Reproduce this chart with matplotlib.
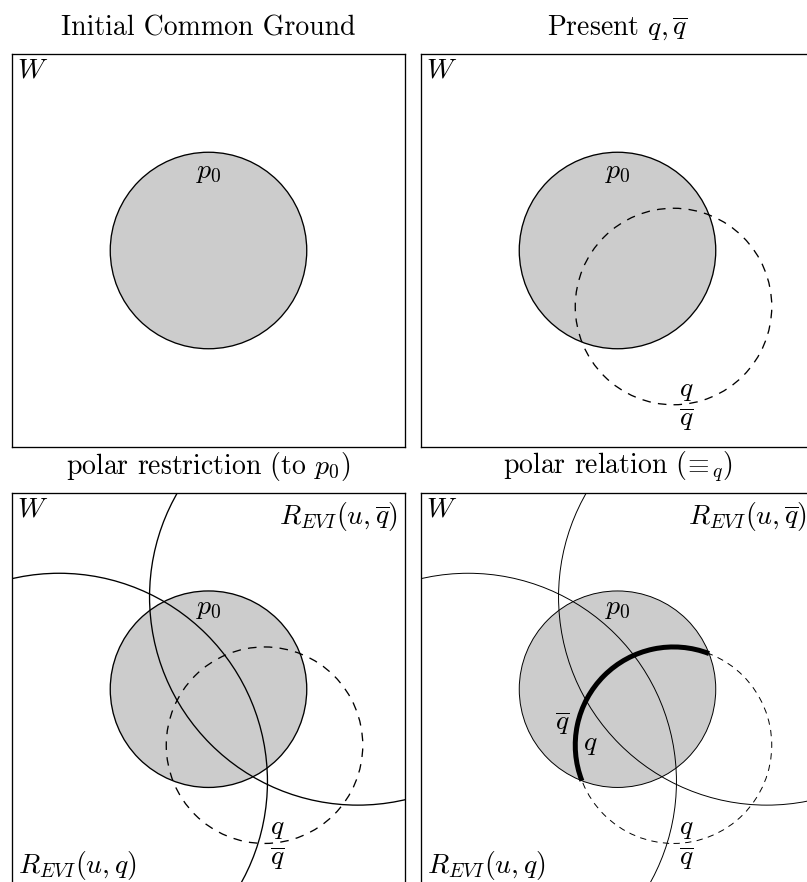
import numpy as np
import matplotlib
matplotlib.use("Agg")
from matplotlib import pyplot as plt
from matplotlib.patches import Circle, Arc

plt.rcParams['font.family'] = 'serif'
plt.rcParams['font.serif'] = ['cmr10']
plt.rcParams['mathtext.fontset'] = 'cm'
plt.rcParams['axes.formatter.use_mathtext'] = True

# geometry of the diagram (units of the square W, side 4)
box_size = 4
p0_center = (2.0, 2.0)
p0_radius = 1.0
q_center = (2.57, 1.43)
q_radius = 1.0
rel_qbar_center = (3.52, 2.94)   # R_EVI(u, qbar)
rel_q_center = (0.48, 1.06)      # R_EVI(u, q)
rel_radius = 2.12

titles = ['Initial Common Ground', r'Present $q,\overline{q}$',
          r'polar restriction (to $p_0$)', r'polar relation $(\!\equiv_{\!q})$']

FS = 20
GREY = '#cccccc'

fig = plt.figure()
fig.set_dpi(100)
fig.set_size_inches(8.07, 8.82)

W, H = 807.0, 882.0
side = 393.0
lefts = [12, 421, 12, 421]
tops = [54, 54, 492.7, 492.7]

axes = []
for i in range(4):
	ax = fig.add_axes([lefts[i] / W, (H - tops[i] - side) / H, side / W, side / H])
	ax.set_xlim(0, box_size)
	ax.set_ylim(0, box_size)
	ax.set_xticks([])
	ax.set_yticks([])
	for sp in ax.spines.values():
		sp.set_linewidth(0.95)
	ax.text(0.5, 1.048, titles[i], transform=ax.transAxes, ha='center',
			va='baseline', fontsize=FS)
	ax.text(0.21, 3.83, '$W$', ha='center', va='center', fontsize=FS)
	axes.append(ax)


def draw_p0(ax, lw, label_y):
	ax.add_patch(Circle(p0_center, p0_radius, facecolor=GREY, edgecolor='black', lw=lw))
	ax.text(p0_center[0], label_y, '$p_0$', ha='center', va='center', fontsize=FS)


def draw_q(ax, lw, label_x, qy, qbary):
	ax.add_patch(Circle(q_center, q_radius, fill=False, edgecolor='black', lw=lw,
						linestyle=(0, (6.5, 5.5))))
	ax.text(label_x, qy, '$q$', ha='center', va='center', fontsize=FS)
	ax.text(label_x, qbary, r'$\overline{q}$', ha='center', va='center', fontsize=FS)


def draw_rel(ax, lw):
	ax.add_patch(Circle(rel_qbar_center, rel_radius, fill=False, edgecolor='black', lw=lw))
	ax.add_patch(Circle(rel_q_center, rel_radius, fill=False, edgecolor='black', lw=lw))
	ax.text(3.93, 3.76, r'$R_{EVI}(u,\overline{q})$', ha='right', va='center', fontsize=FS)
	ax.text(0.06, 0.21, r'$R_{EVI}(u,q)$', ha='left', va='center', fontsize=FS)


# panel 1
draw_p0(axes[0], 0.95, 2.80)

# panel 2
draw_p0(axes[1], 0.95, 2.80)
draw_q(axes[1], 0.95, 2.70, 0.58, 0.28)

# panel 3
draw_p0(axes[2], 0.95, 2.83)
draw_q(axes[2], 0.95, 2.70, 0.59, 0.28)
draw_rel(axes[2], 0.95)

# panel 4
draw_p0(axes[3], 0.7, 2.83)
draw_q(axes[3], 0.7, 2.70, 0.59, 0.28)
draw_rel(axes[3], 0.7)

# part of the q boundary inside p0: between the two intersection points
c0 = np.array(p0_center)
c1 = np.array(q_center)
d = np.linalg.norm(c1 - c0)
mid = (c0 + c1) / 2
h = np.sqrt(p0_radius ** 2 - (d / 2) ** 2)
perp = np.array([-(c1 - c0)[1], (c1 - c0)[0]]) / d
pts = [mid + h * perp, mid - h * perp]
angs = [np.degrees(np.arctan2(p[1] - c1[1], p[0] - c1[0])) % 360 for p in pts]
axes[3].add_patch(Arc(q_center, 2 * q_radius, 2 * q_radius, theta1=min(angs),
					  theta2=max(angs), lw=3.6, color='black'))
axes[3].text(1.44, 1.65, r'$\overline{q}$', ha='center', va='center', fontsize=FS)
axes[3].text(1.72, 1.44, '$q$', ha='center', va='center', fontsize=FS)

fig.savefig('out.png', dpi=100)
